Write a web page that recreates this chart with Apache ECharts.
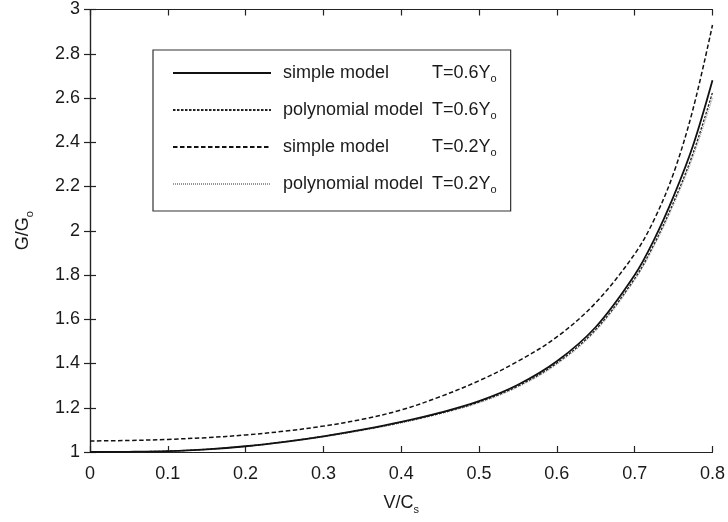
<!DOCTYPE html>
<html>
<head>
<meta charset="utf-8">
<script src="https://cdn.jsdelivr.net/npm/echarts@6/dist/echarts.min.js"></script>
<style>
  html, body { margin: 0; padding: 0; background: #ffffff; }
  #chart { width: 728px; height: 522px; }
</style>
</head>
<body>
<div id="chart"></div>
<script>
// Normalised velocity V/Cs
const velocity = [0, 0.05, 0.1, 0.15, 0.2, 0.25, 0.3, 0.35, 0.4, 0.45, 0.5, 0.55, 0.6, 0.65, 0.7, 0.725, 0.75, 0.775, 0.8];

// G/Go for each model
const simpleT06 = [1.0, 1.001, 1.004, 1.012, 1.026, 1.046, 1.071, 1.101, 1.136, 1.178, 1.23, 1.304, 1.41, 1.565, 1.80, 1.96, 2.155, 2.385, 2.68];
const polyT06   = [1.0, 1.001, 1.004, 1.012, 1.026, 1.046, 1.071, 1.1, 1.134, 1.175, 1.226, 1.298, 1.402, 1.554, 1.784, 1.94, 2.129, 2.35, 2.625];
const simpleT02 = [1.05, 1.052, 1.057, 1.065, 1.077, 1.094, 1.117, 1.148, 1.19, 1.25, 1.322, 1.41, 1.52, 1.675, 1.895, 2.05, 2.26, 2.55, 2.93];
const polyT02   = [1.0, 1.001, 1.004, 1.012, 1.025, 1.044, 1.068, 1.097, 1.131, 1.172, 1.222, 1.294, 1.397, 1.548, 1.777, 1.931, 2.118, 2.335, 2.60];

const xTicks = [0, 0.1, 0.2, 0.3, 0.4, 0.5, 0.6, 0.7, 0.8];
const yTicks = [1, 1.2, 1.4, 1.6, 1.8, 2, 2.2, 2.4, 2.6, 2.8, 3];

const seriesNames = [
  'simple model T=0.6Yo',
  'polynomial model T=0.6Yo',
  'simple model T=0.2Yo',
  'polynomial model T=0.2Yo'
];

const FONT = '"Liberation Sans", Arial, sans-serif';
const INK = '#1a1a1a';
const FS = 18;

function pairs(ys) {
  return velocity.map((v, i) => [v, ys[i]]);
}

const chart = echarts.init(document.getElementById('chart'), null, { renderer: 'canvas' });

const axisLine = { show: true, lineStyle: { color: '#222', width: 1.2 } };
const tickIn = { show: true, inside: true, length: 6, lineStyle: { color: '#222', width: 1.2 } };

function curve(name, ys, z, lineStyle) {
  return {
    name: name, type: 'line', smooth: 0.35,
    symbol: 'none', showSymbol: false, z: z,
    data: pairs(ys),
    itemStyle: { color: lineStyle.color },
    lineStyle: lineStyle
  };
}

chart.setOption({
  animation: false,
  backgroundColor: '#ffffff',
  grid: { left: 90, right: 13, top: 9.5, bottom: 70, containLabel: false },
  legend: {
    orient: 'vertical',
    left: 153,
    top: 50,
    padding: [11, 14, 16, 19],
    itemWidth: 98,
    itemHeight: 14,
    itemGap: 14,
    selectedMode: false,
    borderColor: '#333',
    borderWidth: 1.2,
    backgroundColor: '#ffffff',
    itemStyle: { color: 'rgba(0,0,0,0)', borderWidth: 0, opacity: 0 },
    data: seriesNames,
    formatter: function (name) {
      const parts = name.split(' T=');
      const t = parts[1].slice(0, -1);
      return '{n|' + parts[0] + '}{t|T=' + t + '}{s|o}';
    },
    textStyle: {
      fontFamily: FONT,
      color: INK,
      fontSize: FS,
      rich: {
        n: { fontFamily: FONT, fontSize: FS, color: INK, width: 149, padding: [0, 0, 0, 7], lineHeight: 22 },
        t: { fontFamily: FONT, fontSize: FS, color: INK, lineHeight: 22 },
        s: { fontFamily: FONT, fontSize: 11, color: INK, lineHeight: 11, verticalAlign: 'bottom', padding: [12, 0, 0, 0] }
      }
    }
  },
  xAxis: [
    {
      type: 'value',
      min: 0, max: 0.8, interval: 0.1,
      name: '{a|V/C}{b|s}',
      nameLocation: 'middle',
      nameGap: 39,
      nameTextStyle: {
        rich: {
          a: { fontFamily: FONT, fontSize: FS, color: INK, lineHeight: 22 },
          b: { fontFamily: FONT, fontSize: 11, color: INK, padding: [13, 0, 0, 0] }
        }
      },
      axisLine: axisLine,
      axisTick: tickIn,
      splitLine: { show: false },
      axisLabel: {
        fontFamily: FONT, fontSize: FS, color: INK, margin: 13,
        formatter: v => {
          const hit = xTicks.find(t => Math.abs(t - v) < 1e-9);
          return hit === undefined ? '' : String(hit);
        }
      }
    },
    {
      type: 'value',
      position: 'top',
      min: 0, max: 0.8, interval: 0.1,
      axisLine: axisLine,
      axisTick: tickIn,
      axisLabel: { show: false },
      splitLine: { show: false }
    }
  ],
  yAxis: [
    {
      type: 'value',
      min: 1, max: 3, interval: 0.2,
      name: '{a|G/G}{b|o}',
      nameLocation: 'middle',
      nameGap: 55,
      nameRotate: 90,
      nameTextStyle: {
        rich: {
          a: { fontFamily: FONT, fontSize: FS, color: INK, lineHeight: 22 },
          b: { fontFamily: FONT, fontSize: 11, color: INK, padding: [13, 0, 0, 0] }
        }
      },
      axisLine: axisLine,
      axisTick: tickIn,
      splitLine: { show: false },
      axisLabel: {
        fontFamily: FONT, fontSize: FS, color: INK, margin: 10,
        formatter: v => {
          const hit = yTicks.find(t => Math.abs(t - v) < 1e-9);
          return hit === undefined ? '' : String(hit);
        }
      }
    },
    {
      type: 'value',
      position: 'right',
      min: 1, max: 3, interval: 0.2,
      axisLine: axisLine,
      axisTick: tickIn,
      axisLabel: { show: false },
      splitLine: { show: false }
    }
  ],
  series: [
    curve(seriesNames[0], simpleT06, 4, { color: '#111', width: 1.8, type: 'solid' }),
    curve(seriesNames[1], polyT06, 3, { color: '#222', width: 1.3, type: [2.5, 1.5] }),
    curve(seriesNames[2], simpleT02, 3, { color: '#111', width: 1.5, type: [4.5, 2.5] }),
    curve(seriesNames[3], polyT02, 2, { color: '#9a9a9a', width: 1.1, type: [1, 1] })
  ]
});
</script>
</body>
</html>
